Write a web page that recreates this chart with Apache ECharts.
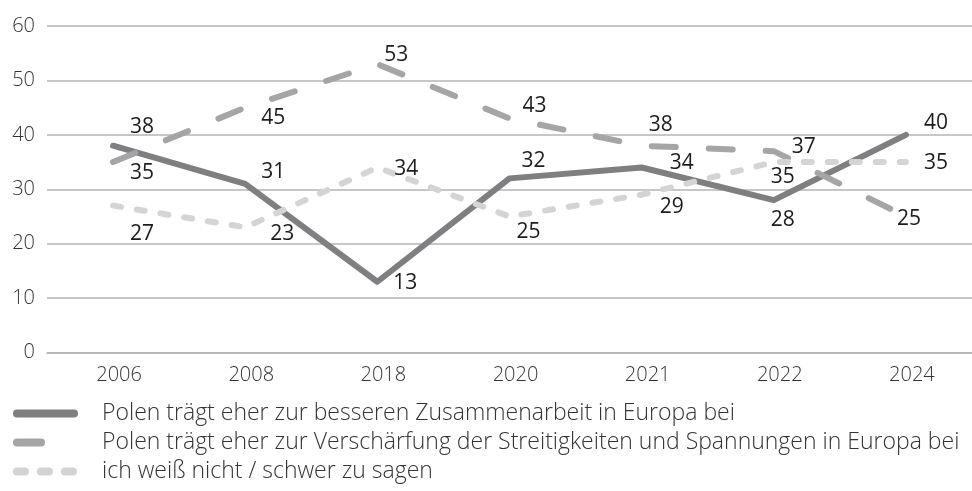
<!DOCTYPE html>
<html>
<head>
<meta charset="utf-8">
<script src="https://cdn.jsdelivr.net/npm/echarts@6/dist/echarts.min.js"></script>
<style>
	html, body { margin: 0; padding: 0; background: #fff; }
	#chart { width: 972px; height: 491px; }
</style>
</head>
<body>
<div id="chart"></div>
<script>
// 类别（年份）
const years = ["2006", "2008", "2018", "2020", "2021", "2022", "2024"];

// 数据系列
const seriesNames = [
	"Polen trägt eher zur besseren Zusammenarbeit in Europa bei",
	"Polen trägt eher zur Verschärfung der Streitigkeiten und Spannungen in Europa bei",
	"ich weiß nicht / schwer zu sagen",
];
const cooperation = [38, 31, 13, 32, 34, 28, 40];
const tension = [35, 45, 53, 43, 38, 37, 25];
const dontKnow = [27, 23, 34, 25, 29, 35, 35];

// Y轴刻度
const yMin = 0;
const yMax = 60;
const yStep = 10;

// 数据标签偏移（相对于点的中心）
const cooperationLabelOffsets = [[29, -19], [28, -12], [28, 1], [24, -17], [40, -4], [9, 20], [30, -12]];
const tensionLabelOffsets = [[29, 11], [28, 10], [19, -9], [25, -12], [19, -21], [30, -4], [3, 3]];
const dontKnowLabelOffsets = [[29, 28], [37, 7], [29, 2], [19, 16], [30, 12], [9, 15], [30, 1]];

const seriesColors = ["#7f7f82", "#a5a5a7", "#d4d4d4"];
const lineTypes = ["solid", [24, 33], [8, 16]];

const axisFont = "'Open Sans', sans-serif";

function buildSeries(name, values, offsets, index) {
	return {
		name: name,
		type: "line",
		symbol: "circle",
		symbolSize: 0.01,
		z: 2 + index,
		lineStyle: {
			color: seriesColors[index],
			width: 6,
			type: lineTypes[index],
			cap: "round",
			join: "round",
		},
		itemStyle: { color: seriesColors[index] },
		data: values.map((v, i) => ({
			value: v,
			label: { offset: offsets[i] },
		})),
		label: {
			show: true,
			position: "inside",
			color: "#1c1c1c",
			fontFamily: axisFont,
			fontWeight: 500,
			fontSize: 21,
		},
	};
}

const chart = echarts.init(document.getElementById("chart"));

const option = {
	animation: false,
	grid: {
		left: 47,
		right: -6,
		top: 26,
		bottom: 138.5,
		containLabel: false,
	},
	legend: {
		orient: "vertical",
		left: 13,
		top: 402,
		height: 89,
		padding: 0,
		itemWidth: 57,
		itemHeight: 14,
		itemGap: 6,
		data: seriesNames,
		itemStyle: { opacity: 0 },
		lineStyle: { width: 8, cap: "round" },
		textStyle: {
			color: "#333",
			fontFamily: axisFont,
			fontWeight: 300,
			fontSize: 23,
			lineHeight: 21,
			padding: [0, 0, 0, 23],
		},
	},
	xAxis: {
		type: "category",
		data: years,
		axisLine: { show: true, lineStyle: { color: "#b4b4b4", width: 1.5 } },
		axisTick: { show: false },
		axisLabel: {
			color: "#333",
			fontFamily: axisFont,
			fontWeight: 300,
			fontSize: 20,
			margin: 13,
			padding: [0, 0, 0, 12],
		},
	},
	yAxis: {
		type: "value",
		min: yMin,
		max: yMax,
		interval: yStep,
		axisLine: { show: false },
		axisTick: { show: false },
		splitLine: { lineStyle: { color: "#b4b4b4", width: 1.5 } },
		axisLabel: {
			color: "#333",
			fontFamily: axisFont,
			fontWeight: 300,
			fontSize: 20,
			margin: 12,
		},
	},
	series: [
		buildSeries(seriesNames[0], cooperation, cooperationLabelOffsets, 0),
		buildSeries(seriesNames[1], tension, tensionLabelOffsets, 1),
		buildSeries(seriesNames[2], dontKnow, dontKnowLabelOffsets, 2),
	],
};

chart.setOption(option);
</script>
</body>
</html>
